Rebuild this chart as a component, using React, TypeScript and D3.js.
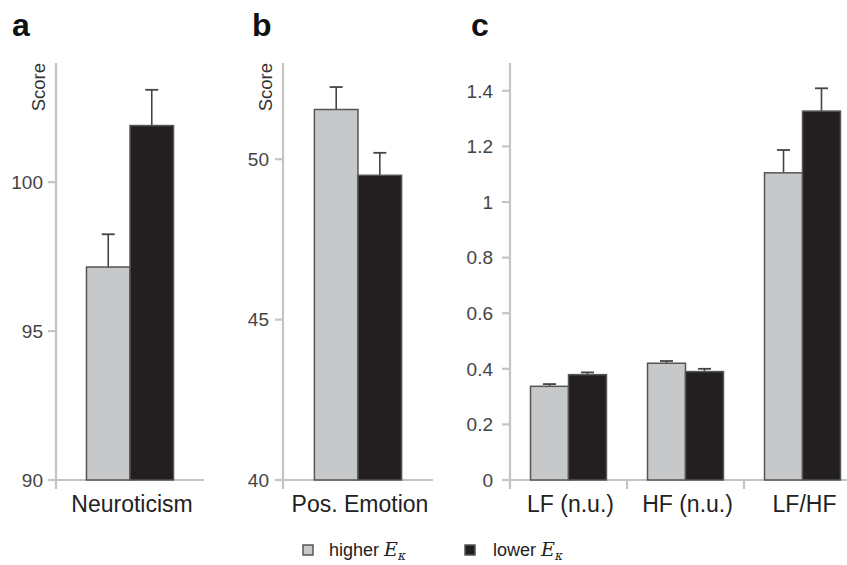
import React from 'react';
import * as d3 from 'd3';

const W = 847;
const H = 565;

const groups = ['higher', 'lower'];

// panel a
const aCategories = ['Neuroticism'];
const aHigher = [97.15];
const aHigherErr = [1.1];
const aLower = [101.9];
const aLowerErr = [1.2];
const aDomain = [90, 104];
const aTicks = [90, 95, 100];

// panel b
const bCategories = ['Pos. Emotion'];
const bHigher = [51.55];
const bHigherErr = [0.7];
const bLower = [49.5];
const bLowerErr = [0.7];
const bDomain = [40, 53];
const bTicks = [40, 45, 50];

// panel c
const cCategories = ['LF (n.u.)', 'HF (n.u.)', 'LF/HF'];
const cHigher = [0.337, 0.42, 1.105];
const cHigherErr = [0.008, 0.008, 0.082];
const cLower = [0.379, 0.39, 1.327];
const cLowerErr = [0.008, 0.01, 0.082];
const cDomain = [0, 1.5];
const cTicks = [0, 0.2, 0.4, 0.6, 0.8, 1, 1.2, 1.4];

const GRAY = '#c7c8ca';
const BLACK = '#231f20';
const AXIS = '#c4c4c4';
const BAR_STROKE = '#555';
const ERR = '#444';
const SANS = '"Liberation Sans", Arial, Helvetica, sans-serif';

const Y_TOP = 63;
const Y_BOT = 480;

type PanelProps = {
  letter: string;
  letterX: number;
  x0: number;
  x1: number;
  axisEnd: number;
  domain: number[];
  ticks: number[];
  labelGap: number;
  categories: string[];
  higher: number[];
  higherErr: number[];
  lower: number[];
  lowerErr: number[];
  score?: boolean;
  groupPad: number;
};

const Panel = (p: PanelProps) => {
  const y = d3.scaleLinear().domain(p.domain).range([Y_BOT, Y_TOP]);
  const xBand = d3.scaleBand<string>().domain(p.categories).range([p.x0, p.x1]);
  const xSub = d3.scaleBand<string>().domain(groups).range([0, xBand.bandwidth()]).paddingOuter(p.groupPad);
  const base = y(p.domain[0]);
  const fmt = d3.format('~g');

  const bars: any[] = [];
  p.categories.forEach((c, i) => {
    const series = [
      { g: 'higher', v: p.higher[i], e: p.higherErr[i], fill: GRAY },
      { g: 'lower', v: p.lower[i], e: p.lowerErr[i], fill: BLACK },
    ];
    series.forEach(s => {
      const bx = (xBand(c) as number) + (xSub(s.g) as number);
      const bw = xSub.bandwidth();
      const cx = bx + bw / 2;
      bars.push(
        <g key={c + s.g}>
          <line x1={cx} x2={cx} y1={y(s.v)} y2={y(s.v + s.e)} stroke={ERR} strokeWidth={1.6} />
          <line x1={cx - 6.5} x2={cx + 6.5} y1={y(s.v + s.e)} y2={y(s.v + s.e)} stroke={ERR} strokeWidth={1.8} />
          <rect x={bx} y={y(s.v)} width={bw} height={base - y(s.v)} fill={s.fill} stroke={BAR_STROKE} strokeWidth={1.5} />
        </g>
      );
    });
  });

  return (
    <g>
      <text x={p.letterX} y={36} fontFamily={SANS} fontWeight="bold" fontSize={32} fill="#111">{p.letter}</text>
      {p.score && (
        <text transform={`translate(${p.x0 - 11},${Y_TOP}) rotate(-90)`} textAnchor="end" fontFamily={SANS} fontSize={18.5} fill="#333">Score</text>
      )}
      {/* y axis */}
      <line x1={p.x0} x2={p.x0} y1={Y_TOP} y2={Y_BOT + 9} stroke={AXIS} strokeWidth={2.2} />
      {p.ticks.map(t => (
        <g key={t}>
          <line x1={p.x0 - 8} x2={p.x0} y1={y(t)} y2={y(t)} stroke={AXIS} strokeWidth={2.2} />
          <text x={p.x0 - p.labelGap} y={y(t)} dy="0.36em" textAnchor="end" fontFamily={SANS} fontSize={19} fill="#444">{fmt(t)}</text>
        </g>
      ))}
      {/* x axis */}
      <line x1={p.x0 - 8} x2={p.axisEnd} y1={Y_BOT} y2={Y_BOT} stroke={AXIS} strokeWidth={2.2} />
      {p.categories.slice(1).map(c => (
        <line key={c} x1={xBand(c)} x2={xBand(c)} y1={Y_BOT} y2={Y_BOT + 9} stroke={AXIS} strokeWidth={2.2} />
      ))}
      {bars}
      {p.categories.map(c => (
        <text key={c} x={(xBand(c) as number) + xBand.bandwidth() / 2 + 2} y={512} textAnchor="middle" fontFamily={SANS} fontSize={23} fill="#222">{c}</text>
      ))}
    </g>
  );
};

const EKappa = () => (
  <>
    <tspan fontFamily='"DejaVu Serif", "Liberation Serif", serif' fontStyle="italic" fontSize={19} dx={5}>E</tspan>
    <tspan fontFamily='"DejaVu Serif", "Liberation Serif", serif' fontStyle="italic" fontSize={12} dy={4}>κ</tspan>
  </>
);

export default function App() {
  return (
    <svg width={W} height={H} style={{ position: 'absolute', left: 0, top: 0, background: '#fff' }}>
      <Panel letter="a" letterX={12} x0={56} x1={204} axisEnd={204} domain={aDomain} ticks={aTicks} labelGap={13}
        categories={aCategories} higher={aHigher} higherErr={aHigherErr} lower={aLower} lowerErr={aLowerErr} score groupPad={0.7} />
      <Panel letter="b" letterX={252} x0={283} x1={433} axisEnd={433} domain={bDomain} ticks={bTicks} labelGap={14}
        categories={bCategories} higher={bHigher} higherErr={bHigherErr} lower={bLower} lowerErr={bLowerErr} score groupPad={0.72} />
      <Panel letter="c" letterX={471} x0={510} x1={861} axisEnd={W} domain={cDomain} ticks={cTicks} labelGap={17}
        categories={cCategories} higher={cHigher} higherErr={cHigherErr} lower={cLower} lowerErr={cLowerErr} groupPad={0.54} />
      {/* legend */}
      <g fontFamily={SANS} fontSize={18} fill="#222">
        <rect x={303} y={545} width={10} height={10} fill={GRAY} stroke={BAR_STROKE} strokeWidth={1.5} />
        <text x={329} y={556}>higher<EKappa /></text>
        <rect x={465} y={545} width={10} height={10} fill={BLACK} stroke={BAR_STROKE} strokeWidth={1.5} />
        <text x={493} y={556}>lower<EKappa /></text>
      </g>
    </svg>
  );
}
